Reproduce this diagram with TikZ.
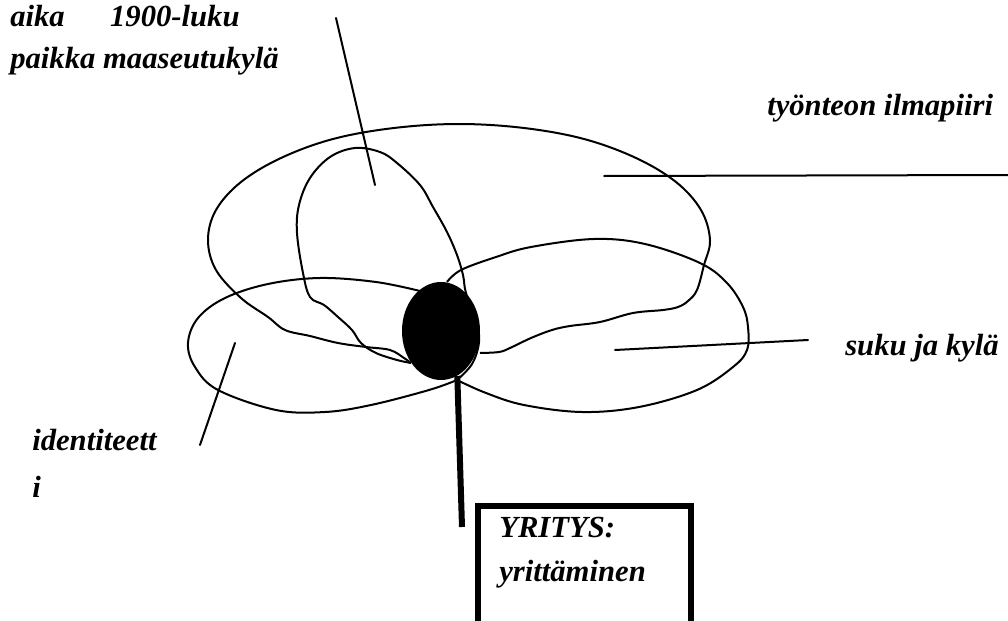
\documentclass[tikz,border=0pt]{standalone}
\usepackage{fontspec}
\setmainfont{Liberation Serif}
\usepackage{tikz}
\usetikzlibrary{shapes.geometric}
\usepackage{tkz-euclide}

\tikzset{
  lbl/.style={font=\fontsize{23}{31}\selectfont\bfseries\itshape, inner sep=0pt, align=left},
  curve/.style={line width=1.5pt, line join=round},
  blob/.style={ellipse, fill=black, minimum width=58.5pt, minimum height=73.5pt, inner sep=0pt},
}

\begin{document}
\begin{tikzpicture}[x=0.75pt, y=-0.75pt]
                \useasboundingbox (0,0) rectangle (1008,621);
                \tkzDefPoints{336/18/A, 375/185/B, 604/176/C, 1008/175/D, 615/350/E, 808/340/F, 235/343/G, 200/445/H, 462/527/J}
                % tyonteon ilmapiiri
                \draw[curve] plot[smooth, tension=0.6] coordinates {(411,363) (404,358) (390,350) (366,347) (338,343) (310,336) (285,330) (268,317) (241,298) (216,270) (208,240) (216,210) (241,182) (281,158) (333,139) (394,128) (459,124) (524,128) (584,139) (636,158) (676,182) (701,210) (710,240) (704,265) (697,290) (688,301) (678,307) (663,310) (633,313) (600,322) (570,326) (552,330) (531,338) (510,348) (499,352) (480,353)};
                % aika ja paikka
                \draw[curve] plot[smooth, tension=0.6] coordinates {(411,363) (397,360) (376,353) (361,343) (352,330) (338,317) (324,305) (310,297) (303,273) (297,233) (299,205) (310,178) (330,157) (355,148) (380,152) (397,163) (420,185) (433,207) (447,232) (457,255) (463,275) (466,293) (476,318) (479,342) (472,364) (457,380)};
                % identiteetti
                \draw[curve] plot[smooth, tension=0.6] coordinates {(420,291) (376,282) (320,278) (268,284) (225,298) (198,318) (188,343) (195,367) (218,390) (276,410) (325,412) (371,405) (429,390) (457,380)};
                % suku ja kyla
                \draw[curve] plot[smooth, tension=0.6] coordinates {(447,282) (461,270) (496,257) (531,247) (594,239) (645,244) (700,263) (727,283) (743,307) (748,327) (747,350) (733,367) (697,390) (639,407) (582,412) (524,405) (486,393) (457,380)};
                \node[blob] (yd) at (441,331) {};
                \draw[line width=4.5pt] (yd.-70) -- (J);
                \tkzDrawSegments[line width=1.5pt](A,B C,D E,F G,H)
                \draw[line width=4.5pt] (478,506) rectangle (691,680);
                \node[lbl, anchor=base west] (aika) at (10,68) {aika\hspace{34pt}1900-luku\\paikka maaseutukylä};
                \node[lbl, anchor=base west] (ilma) at (767,115) {työnteon ilmapiiri};
                \node[lbl, anchor=base west] (suku) at (845,355) {suku ja kylä};
                \node[lbl, anchor=base west] (iden) at (32,497) {identiteett\\[4pt]i};
                \node[lbl, anchor=base west] (yrit) at (499,581) {YRITYS:\\[2pt]yrittäminen};
            \end{tikzpicture}
\end{document}
